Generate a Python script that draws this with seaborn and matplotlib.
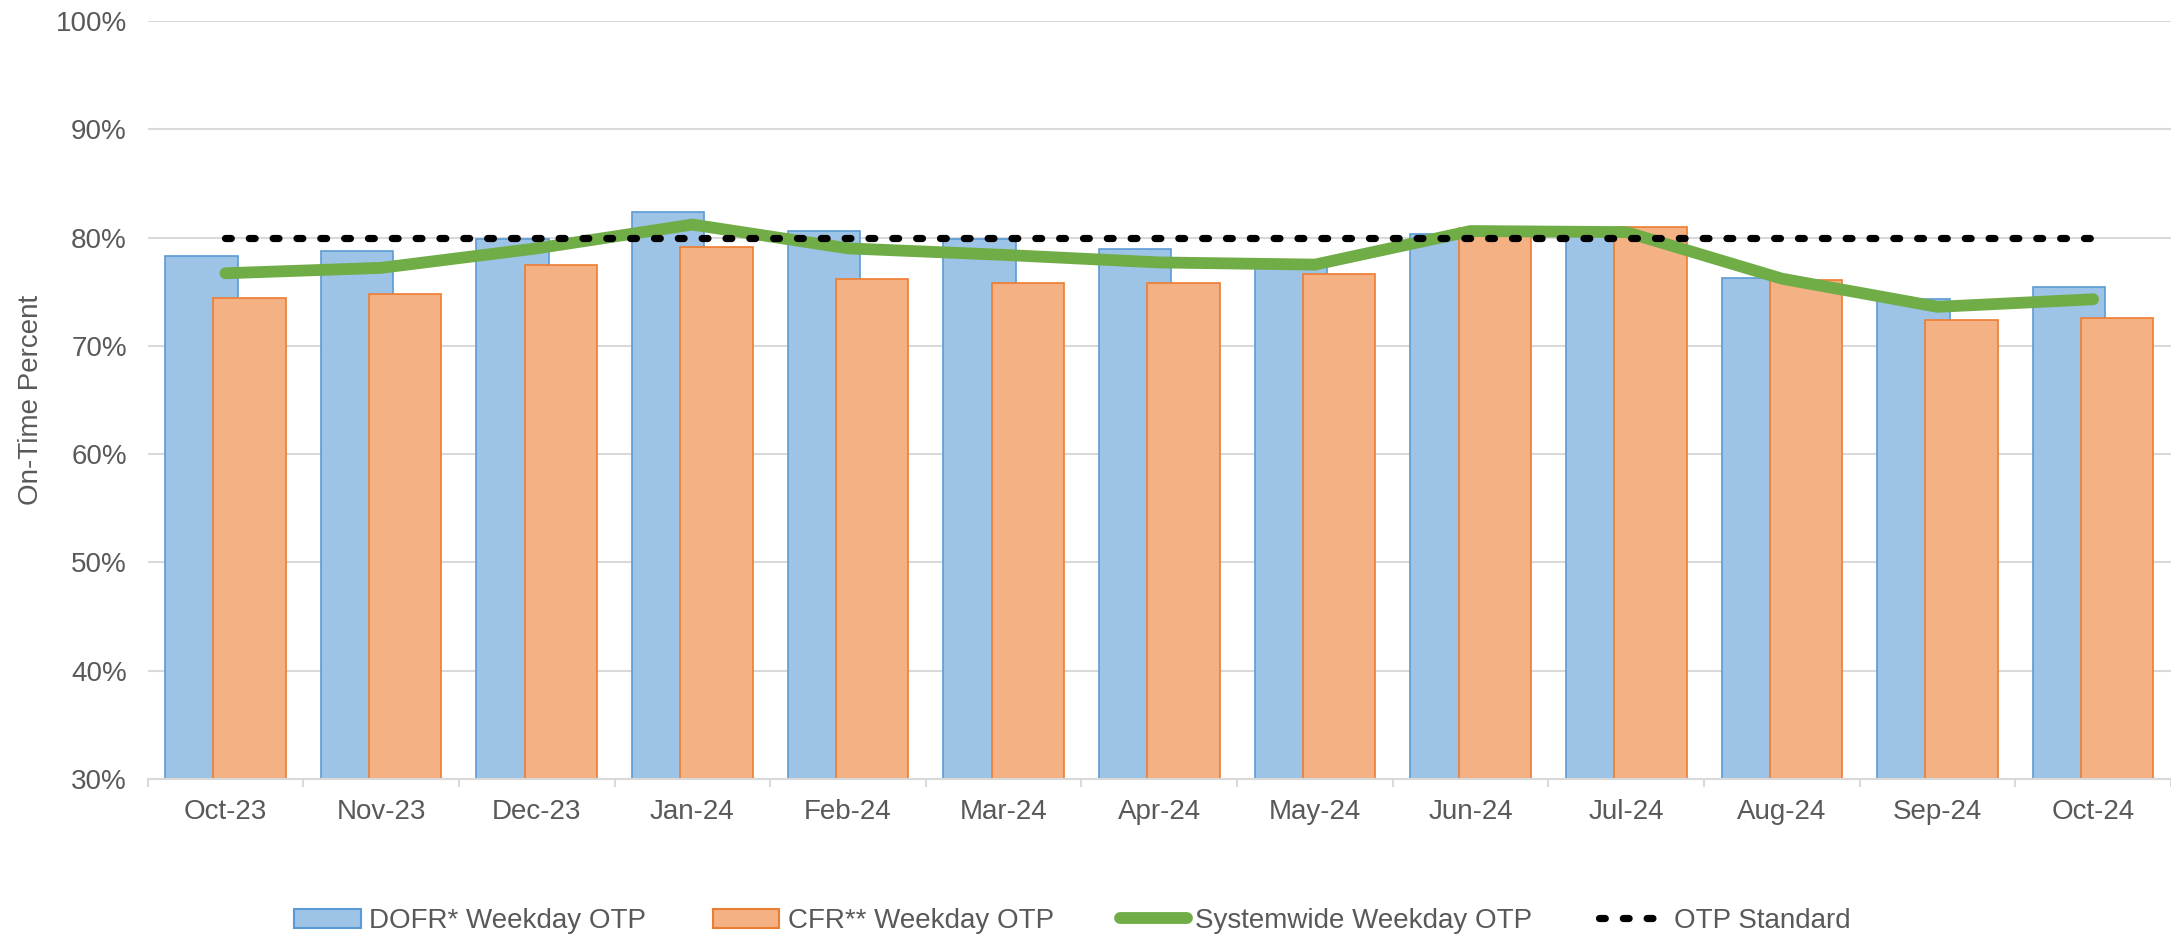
import numpy as np
import pandas as pd
import matplotlib
matplotlib.use("Agg")
import matplotlib.pyplot as plt
import matplotlib.ticker as ticker
from matplotlib.patches import Patch
from matplotlib.lines import Line2D
import seaborn as sns

months = ["Oct-23", "Nov-23", "Dec-23", "Jan-24", "Feb-24", "Mar-24", "Apr-24",
          "May-24", "Jun-24", "Jul-24", "Aug-24", "Sep-24", "Oct-24"]
dofr = [78.3, 78.8, 79.9, 82.4, 80.6, 79.9, 78.9, 77.8, 80.3, 80.4, 76.3, 74.3, 75.4]
cfr = [74.4, 74.8, 77.5, 79.1, 76.2, 75.8, 75.8, 76.6, 80.9, 81.0, 76.1, 72.4, 72.6]
systemwide = [76.7, 77.2, 79.0, 81.2, 79.0, 78.4, 77.7, 77.5, 80.6, 80.5, 76.2, 73.6, 74.3]
otp_standard = [80.0] * len(months)

series_names = ["DOFR* Weekday OTP", "CFR** Weekday OTP"]
FACE = {"DOFR* Weekday OTP": "#9DC3E6", "CFR** Weekday OTP": "#F4B183"}
EDGE = ["#5B9BD5", "#ED7D31"]
GREEN = "#70AD47"
GREY = "#595959"
GRID = "#D9D9D9"
DOTS = [0.8, 2.5]

df = pd.DataFrame({
    "month": months * 2,
    "series": [series_names[0]] * len(months) + [series_names[1]] * len(months),
    "value": dofr + cfr,
})

sns.set_theme(style="white")
plt.rcParams["font.family"] = ["Liberation Sans", "DejaVu Sans"]

fig = plt.figure(figsize=(21.71, 9.40), dpi=100)
ax = fig.add_axes([0.068, 0.1713, 0.932, 0.8064])
ax.set_axisbelow(True)

# overlapping bars: negative gap widens each dodged bar past its slot
sns.barplot(data=df, x="month", y="value", hue="series", order=months,
            hue_order=series_names, palette=FACE, saturation=1,
            width=0.62, gap=-0.5, linewidth=1.2, legend=False, ax=ax)
for container, ec in zip(ax.containers, EDGE):
    for p in container:
        p.set_edgecolor(ec)

pos = np.arange(len(months))
sns.lineplot(x=pos, y=systemwide, color=GREEN, linewidth=8.5,
             solid_capstyle="round", solid_joinstyle="round", ax=ax, zorder=4)
sns.lineplot(x=pos, y=otp_standard, color="black", linewidth=5.2,
             dashes=False, ax=ax, zorder=5)
ax.lines[-1].set_dashes(DOTS)
ax.lines[-1].set_dash_capstyle("round")

ax.set_ylim(30, 100)
ax.set_xlim(-0.5, len(months) - 0.5)
ax.yaxis.set_major_locator(ticker.MultipleLocator(10))
ax.yaxis.set_major_formatter(ticker.FuncFormatter(lambda v, _: f"{v:.0f}%"))
ax.grid(axis="y", color=GRID, linewidth=1.5)
ax.grid(axis="x", visible=False)

ax.set_xticks(pos)
ax.set_xticklabels(months)
ax.xaxis.set_minor_locator(ticker.FixedLocator(np.arange(len(months) + 1) - 0.5))
ax.tick_params(axis="x", which="major", length=0, pad=14.5, labelsize=20, labelcolor=GREY)
ax.tick_params(axis="x", which="minor", length=6, width=1.5, color=GRID, bottom=True)
ax.tick_params(axis="y", length=0, pad=15, labelsize=20, labelcolor=GREY)

for side in ["top", "right", "left"]:
    ax.spines[side].set_visible(False)
ax.spines["bottom"].set_color(GRID)
ax.spines["bottom"].set_linewidth(1.5)

ax.set_xlabel("")
ax.set_ylabel("On-Time Percent", fontsize=20, color=GREY, labelpad=8)

handles = [
    Patch(facecolor=FACE[series_names[0]], edgecolor=EDGE[0], linewidth=1.5),
    Patch(facecolor=FACE[series_names[1]], edgecolor=EDGE[1], linewidth=1.5),
    Line2D([], [], color=GREEN, linewidth=8.5, solid_capstyle="round"),
    Line2D([], [], color="black", linewidth=5.2, dashes=DOTS,
           dash_capstyle="round"),
]
labels = series_names + ["Systemwide Weekday OTP", "OTP Standard"]
fig.legend(handles, labels, loc="center", bbox_to_anchor=(0.494, 0.02),
           ncol=4, frameon=False, fontsize=20, labelcolor=GREY,
           handlelength=2.4, handletextpad=0.3, columnspacing=2.4)

fig.savefig("out.png", dpi=100)
